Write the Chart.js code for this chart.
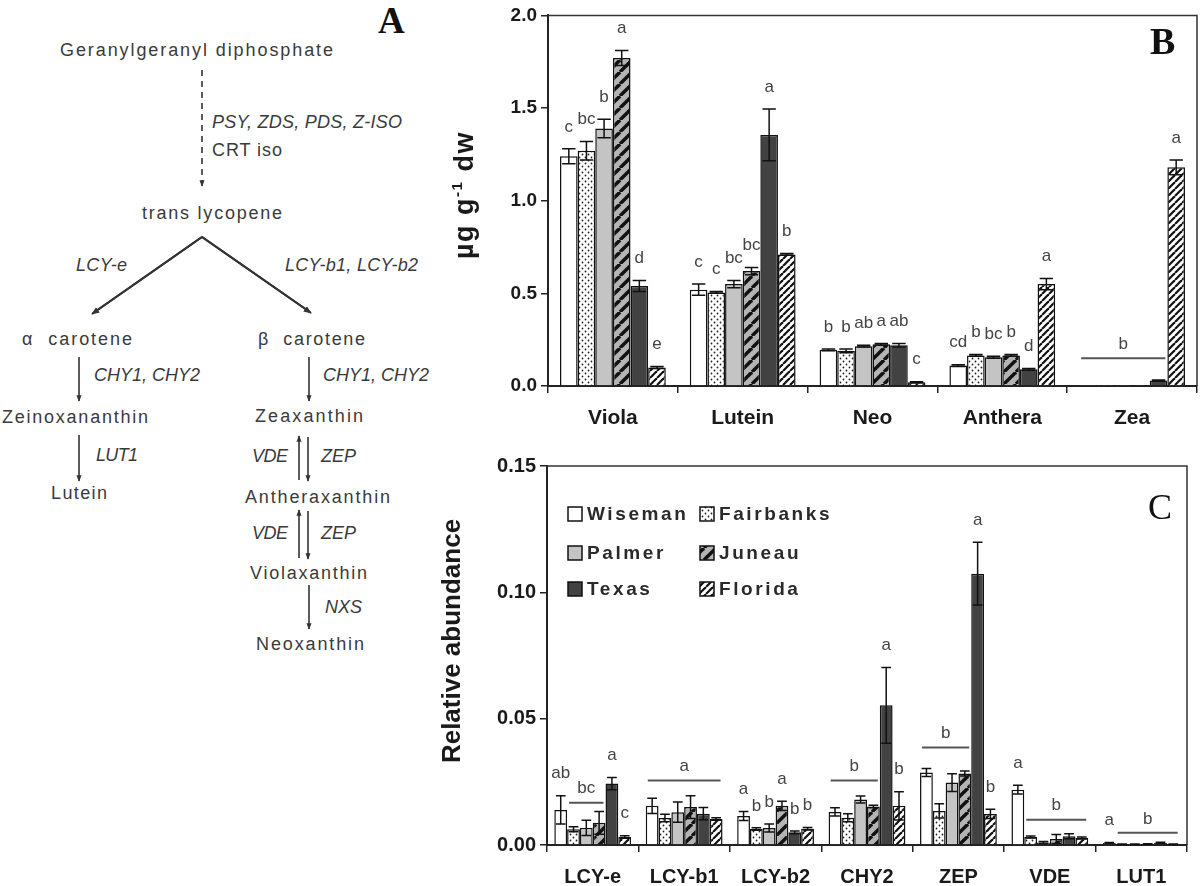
<!DOCTYPE html>
<html>
<head>
<meta charset="utf-8">
<script src="https://cdn.jsdelivr.net/npm/chart.js@4.4.1/dist/chart.umd.min.js"></script>
<style>
  body { margin: 0; background: #fff; width: 1200px; height: 886px; overflow: hidden; position: relative; }
  #pathway { position: absolute; left: 0; top: 0; }
  #pathway text { font-family: 'Liberation Sans', Arial, sans-serif; font-size: 18px; fill: #3a3a3a; dominant-baseline: central; }
  #pathway text.it { font-style: italic; }
  .wrap { position: absolute; left: 440px; width: 760px; }
  #wrapB { top: 0; height: 440px; }
  #wrapC { top: 440px; height: 446px; }
  .panel { position: absolute; font-family: 'Liberation Serif', 'Times New Roman', serif; color: #111; line-height: 1; }
</style>
</head>
<body>

<svg id="pathway" width="440" height="886">
  <defs>
    <marker id="ah" viewBox="0 0 10 10" refX="9" refY="5" markerWidth="4" markerHeight="4" orient="auto">
      <path d="M0,1 L10,5 L0,9 z" fill="#333"/>
    </marker>
  </defs>
  <g stroke="#333" stroke-width="1.6" fill="none">
    <line x1="202" y1="70" x2="202" y2="186" stroke-dasharray="6,5" marker-end="url(#ah)"/>
    <polyline points="93,313 202,237 310,312" stroke-width="2"/>
    <line x1="202" y1="237" x2="92" y2="314" stroke-width="2" marker-end="url(#ah)"/>
    <line x1="202" y1="237" x2="311" y2="313" stroke-width="2" marker-end="url(#ah)"/>
    <line x1="79" y1="357" x2="79" y2="401" marker-end="url(#ah)"/>
    <line x1="79" y1="435" x2="79" y2="481" marker-end="url(#ah)"/>
    <line x1="309" y1="357" x2="309" y2="401" marker-end="url(#ah)"/>
    <line x1="299" y1="480" x2="299" y2="436" marker-end="url(#ah)"/>
    <line x1="308" y1="437" x2="308" y2="481" marker-end="url(#ah)"/>
    <line x1="299" y1="558" x2="299" y2="510" marker-end="url(#ah)"/>
    <line x1="308" y1="511" x2="308" y2="559" marker-end="url(#ah)"/>
    <line x1="309" y1="585" x2="309" y2="629" marker-end="url(#ah)"/>
  </g>
  <text x="60" y="50" textLength="273" lengthAdjust="spacing">Geranylgeranyl diphosphate</text>
  <text class="it" x="212" y="122" textLength="190" lengthAdjust="spacing">PSY, ZDS, PDS, Z-ISO</text>
  <text x="212" y="150" textLength="70" lengthAdjust="spacing">CRT iso</text>
  <text x="142" y="213" textLength="140" lengthAdjust="spacing">trans lycopene</text>
  <text class="it" x="76" y="265" textLength="51" lengthAdjust="spacing">LCY-e</text>
  <text class="it" x="285" y="265" textLength="133" lengthAdjust="spacing">LCY-b1, LCY-b2</text>
  <text x="22" y="339" textLength="110" lengthAdjust="spacing" xml:space="preserve">α  carotene</text>
  <text x="258" y="339" textLength="107" lengthAdjust="spacing" xml:space="preserve">β  carotene</text>
  <text class="it" x="94" y="375" textLength="106" lengthAdjust="spacing">CHY1, CHY2</text>
  <text class="it" x="323" y="375" textLength="106" lengthAdjust="spacing">CHY1, CHY2</text>
  <text x="2" y="417" textLength="146" lengthAdjust="spacing">Zeinoxananthin</text>
  <text x="255" y="416" textLength="108" lengthAdjust="spacing">Zeaxanthin</text>
  <text class="it" x="96" y="455" textLength="42" lengthAdjust="spacing">LUT1</text>
  <text class="it" x="252" y="456" textLength="36" lengthAdjust="spacing">VDE</text>
  <text class="it" x="321" y="456" textLength="35" lengthAdjust="spacing">ZEP</text>
  <text x="51" y="493" textLength="56" lengthAdjust="spacing">Lutein</text>
  <text x="245" y="497" textLength="145" lengthAdjust="spacing">Antheraxanthin</text>
  <text class="it" x="252" y="533" textLength="36" lengthAdjust="spacing">VDE</text>
  <text class="it" x="321" y="533" textLength="35" lengthAdjust="spacing">ZEP</text>
  <text x="250" y="573" textLength="117" lengthAdjust="spacing">Violaxanthin</text>
  <text class="it" x="325" y="607" textLength="37" lengthAdjust="spacing">NXS</text>
  <text x="256" y="644" textLength="108" lengthAdjust="spacing">Neoxanthin</text>
</svg>
<div class="panel" style="left:378px;top:2px;font-size:37px;font-weight:bold;">A</div>

<div class="wrap" id="wrapB"><canvas id="chartB" width="760" height="440"></canvas></div>
<div class="wrap" id="wrapC"><canvas id="chartC" width="760" height="446"></canvas></div>
<div class="panel" style="left:1150px;top:22px;font-size:38px;font-weight:bold;">B</div>
<div class="panel" style="left:1148px;top:489px;font-size:36px;">C</div>

<script>
// ---------- data ----------
const seriesNames = ['Wiseman', 'Fairbanks', 'Palmer', 'Juneau', 'Texas', 'Florida'];

// panel B: pigment content (ug g-1 dw)
const bCategories = ['Viola', 'Lutein', 'Neo', 'Anthera', 'Zea'];
const bWiseman   = [1.24, 0.52, 0.195, 0.11, 0.006];
const bFairbanks = [1.27, 0.505, 0.19, 0.165, 0.006];
const bPalmer    = [1.39, 0.55, 0.215, 0.155, 0.006];
const bJuneau    = [1.77, 0.62, 0.225, 0.165, 0.006];
const bTexas     = [0.54, 1.355, 0.22, 0.09, 0.03];
const bFlorida   = [0.10, 0.71, 0.02, 0.55, 1.18];
const bWisemanErr   = [0.04, 0.03, 0.005, 0.005, 0];
const bFairbanksErr = [0.05, 0.005, 0.01, 0.005, 0];
const bPalmerErr    = [0.05, 0.02, 0.005, 0.005, 0];
const bJuneauErr    = [0.04, 0.02, 0.005, 0.005, 0];
const bTexasErr     = [0.03, 0.14, 0.01, 0.005, 0.003];
const bFloridaErr   = [0.005, 0.005, 0.003, 0.03, 0.04];
const bWisemanSig   = ['c', 'c', 'b', 'cd', ''];
const bFairbanksSig = ['bc', 'c', 'b', 'b', ''];
const bPalmerSig    = ['b', 'bc', 'ab', 'bc', ''];
const bJuneauSig    = ['a', 'bc', 'a', 'b', ''];
const bTexasSig     = ['d', 'a', 'ab', 'd', ''];
const bFloridaSig   = ['e', 'b', 'c', 'a', 'a'];
const bLineCats   = ['Zea'];
const bLineFrom   = [0];
const bLineTo     = [4];
const bLineLevel  = [0.15];
const bLineLabels = ['b'];
const bTicks = [0, 0.5, 1.0, 1.5, 2.0];

// panel C: relative transcript abundance
const cCategories = ['LCY-e', 'LCY-b1', 'LCY-b2', 'CHY2', 'ZEP', 'VDE', 'LUT1'];
const cWiseman   = [0.0139, 0.0155, 0.0115, 0.0131, 0.0287, 0.0219, 0.0008];
const cFairbanks = [0.0062, 0.0107, 0.0063, 0.0108, 0.0135, 0.0032, 0.0003];
const cPalmer    = [0.0068, 0.0130, 0.0067, 0.0180, 0.0247, 0.0010, 0.0003];
const cJuneau    = [0.0088, 0.0150, 0.0155, 0.0152, 0.0283, 0.0024, 0.0004];
const cTexas     = [0.0243, 0.0124, 0.0050, 0.0553, 0.1074, 0.0035, 0.0009];
const cFlorida   = [0.0032, 0.0103, 0.0064, 0.0155, 0.0123, 0.0028, 0.0003];
const cWisemanErr   = [0.0056, 0.0030, 0.0018, 0.0016, 0.0016, 0.0017, 0.0002];
const cFairbanksErr = [0.0010, 0.0015, 0.0005, 0.0016, 0.0028, 0.0004, 0.0001];
const cPalmerErr    = [0.0030, 0.0040, 0.0016, 0.0014, 0.0035, 0.0004, 0.0001];
const cJuneauErr    = [0.0045, 0.0045, 0.0018, 0.0005, 0.0010, 0.0018, 0.0001];
const cTexasErr     = [0.0024, 0.0024, 0.0005, 0.0150, 0.0124, 0.0010, 0.0002];
const cFloridaErr   = [0.0005, 0.0005, 0.0005, 0.0056, 0.0018, 0.0004, 0.0001];
const cWisemanSig   = ['ab', '', 'a', '', '', 'a', 'a'];
const cFairbanksSig = ['', '', 'b', '', '', '', ''];
const cPalmerSig    = ['', '', 'b', '', '', '', ''];
const cJuneauSig    = ['', '', 'a', '', '', '', ''];
const cTexasSig     = ['a', '', 'b', 'a', 'a', '', ''];
const cFloridaSig   = ['c', '', 'b', 'b', 'b', '', ''];
const cLineCats   = ['LCY-e', 'LCY-b1', 'CHY2', 'ZEP', 'VDE', 'LUT1'];
const cLineFrom   = [1, 0, 0, 0, 1, 1];
const cLineTo     = [3, 5, 3, 3, 5, 5];
const cLineLevel  = [0.0167, 0.0255, 0.0255, 0.0386, 0.0100, 0.0048];
const cLineLabels = ['bc', 'a', 'b', 'b', 'b', 'b'];
const cTicks = [0, 0.05, 0.10, 0.15];

// ---------- fills ----------
function tile(size, bg, draw) {
  const c = document.createElement('canvas');
  c.width = size; c.height = size;
  const g = c.getContext('2d');
  g.fillStyle = bg; g.fillRect(0, 0, size, size);
  draw(g, size);
  return c;
}
function stripes(size, bg, w) {
  return tile(size, bg, (g, s) => {
    g.strokeStyle = '#111'; g.lineWidth = w;
    for (let k = -1; k <= 1; k++) {
      g.beginPath(); g.moveTo(k * s, s); g.lineTo(k * s + s, 0); g.stroke();
    }
  });
}
function fills(ctx) {
  const dots = tile(6, '#fff', (g) => {
    g.fillStyle = '#222';
    g.beginPath(); g.arc(1.5, 1.5, 0.9, 0, Math.PI * 2); g.fill();
    g.beginPath(); g.arc(4.5, 4.5, 0.9, 0, Math.PI * 2); g.fill();
  });
  return [
    '#ffffff',
    ctx.createPattern(dots, 'repeat'),
    '#c4c4c4',
    ctx.createPattern(stripes(12, '#b4b4b4', 3.4), 'repeat'),
    '#424242',
    ctx.createPattern(stripes(7, '#ffffff', 2.2), 'repeat')
  ];
}

// ---------- plugins ----------
const FONT = "'Liberation Sans', Arial, sans-serif";

const marks = {
  id: 'marks',
  afterDatasetsDraw(chart, args, opts) {
    const ctx = chart.ctx, ys = chart.scales.y;
    ctx.save();
    ctx.strokeStyle = '#111';
    ctx.lineWidth = 1.5;
    ctx.fillStyle = '#444';
    ctx.font = '17px ' + FONT;
    ctx.textAlign = 'center';
    ctx.textBaseline = 'middle';
    chart.data.datasets.forEach((ds, i) => {
      chart.getDatasetMeta(i).data.forEach((bar, j) => {
        const v = ds.data[j], e = ds.err[j];
        const top = ys.getPixelForValue(v + e);
        if (e > 0) {
          const bot = ys.getPixelForValue(Math.max(v - e, 0));
          const hw = bar.width * 0.38;
          ctx.beginPath();
          ctx.moveTo(bar.x, top); ctx.lineTo(bar.x, bot);
          ctx.moveTo(bar.x - hw, top); ctx.lineTo(bar.x + hw, top);
          ctx.moveTo(bar.x - hw, bot); ctx.lineTo(bar.x + hw, bot);
          ctx.stroke();
        }
        if (ds.sig[j]) ctx.fillText(ds.sig[j], bar.x, top - opts.gap);
      });
    });
    // significance group lines
    ctx.strokeStyle = '#555';
    ctx.lineWidth = 2;
    opts.cats.forEach((cat, k) => {
      const idx = chart.data.labels.indexOf(cat);
      const a = chart.getDatasetMeta(opts.from[k]).data[idx];
      const b = chart.getDatasetMeta(opts.to[k]).data[idx];
      const x0 = a.x - a.width / 2 + 2, x1 = b.x + b.width / 2 - 2;
      const y = ys.getPixelForValue(opts.level[k]);
      ctx.beginPath(); ctx.moveTo(x0, y); ctx.lineTo(x1, y); ctx.stroke();
      ctx.fillText(opts.labels[k], (x0 + x1) / 2, y - 14);
    });
    ctx.restore();
  },
  afterDraw(chart, args, opts) {
    const ctx = chart.ctx, ca = chart.chartArea;
    ctx.save();
    // frame on top and right
    ctx.strokeStyle = '#333';
    ctx.lineWidth = 1.5;
    ctx.beginPath();
    ctx.moveTo(ca.left, ca.top); ctx.lineTo(ca.right, ca.top); ctx.lineTo(ca.right, ca.bottom);
    ctx.stroke();
    // rotated y title
    ctx.translate(opts.titleX, opts.titleY);
    ctx.rotate(-Math.PI / 2);
    ctx.fillStyle = '#1a1a1a';
    ctx.textBaseline = 'middle';
    if ('letterSpacing' in ctx) ctx.letterSpacing = opts.titleSpacing;
    const parts = opts.title;
    const big = 'bold ' + opts.titleSize + 'px ' + FONT;
    const small = 'bold ' + Math.round(opts.titleSize * 0.55) + 'px ' + FONT;
    let total = 0;
    parts.forEach(p => { ctx.font = p.sup ? small : big; total += ctx.measureText(p.t).width; });
    let x = -total / 2;
    ctx.textAlign = 'left';
    parts.forEach(p => {
      ctx.font = p.sup ? small : big;
      ctx.fillText(p.t, x, p.sup ? -opts.titleSize * 0.3 : 0);
      x += ctx.measureText(p.t).width;
    });
    ctx.restore();
    // legend
    if (opts.legend) {
      const L = opts.legend;
      ctx.save();
      ctx.font = 'bold 19px ' + FONT;
      if ('letterSpacing' in ctx) ctx.letterSpacing = '2.6px';
      ctx.textBaseline = 'middle';
      ctx.textAlign = 'left';
      chart.data.datasets.forEach((ds, i) => {
        const col = i % 2, row = Math.floor(i / 2);
        const bx = L.x[col], by = L.y[row];
        ctx.fillStyle = ds.backgroundColor;
        ctx.fillRect(bx, by - 7, 14, 14);
        ctx.strokeStyle = '#111';
        ctx.lineWidth = 1.5;
        ctx.strokeRect(bx, by - 7, 14, 14);
        ctx.fillStyle = '#2a2a2a';
        ctx.fillText(ds.label, bx + 19, by + 1);
      });
      ctx.restore();
    }
  }
};

function makeChart(id, cfg) {
  const canvas = document.getElementById(id);
  const ctx = canvas.getContext('2d');
  const colors = fills(ctx);
  const datasets = seriesNames.map((name, i) => ({
    label: name,
    data: cfg.values[i],
    err: cfg.errs[i],
    sig: cfg.sigs[i],
    backgroundColor: colors[i],
    borderColor: '#111',
    borderWidth: 1.5,
    categoryPercentage: cfg.catPct,
    barPercentage: 1.0
  }));
  return new Chart(ctx, {
    type: 'bar',
    data: { labels: cfg.categories, datasets },
    plugins: [marks],
    options: {
      responsive: false,
      animation: false,
      layout: { padding: cfg.padding },
      plugins: {
        legend: { display: false },
        tooltip: { enabled: false },
        marks: cfg.marks
      },
      scales: {
        x: {
          grid: { display: true, drawOnChartArea: false, offset: true, tickLength: 7, color: '#222', lineWidth: 1.5 },
          border: { display: true, color: '#222', width: 2 },
          ticks: { color: '#1a1a1a', padding: cfg.xPad, font: { family: FONT, size: cfg.xFont, weight: 'bold' } },
          afterFit: s => { s.height = cfg.xHeight; }
        },
        y: {
          min: 0,
          max: cfg.ticks[cfg.ticks.length - 1],
          afterBuildTicks: s => { s.ticks = cfg.ticks.map(v => ({ value: v })); },
          grid: { display: true, drawOnChartArea: false, tickLength: 7, color: '#222', lineWidth: 1.5 },
          border: { display: true, color: '#222', width: 2 },
          ticks: {
            color: '#1a1a1a', padding: 4,
            font: { family: FONT, size: cfg.yFont, weight: 'bold' },
            callback: v => v.toFixed(cfg.digits)
          },
          afterFit: s => { s.width = cfg.yWidth; }
        }
      }
    }
  });
}

makeChart('chartB', {
  categories: bCategories,
  values: [bWiseman, bFairbanks, bPalmer, bJuneau, bTexas, bFlorida],
  errs: [bWisemanErr, bFairbanksErr, bPalmerErr, bJuneauErr, bTexasErr, bFloridaErr],
  sigs: [bWisemanSig, bFairbanksSig, bPalmerSig, bJuneauSig, bTexasSig, bFloridaSig],
  ticks: bTicks, digits: 1,
  catPct: 0.815,
  padding: { top: 11, right: 3, left: 0, bottom: 0 },
  xHeight: 54, yWidth: 108, xPad: 13, xFont: 21, yFont: 19,
  marks: {
    gap: 22,
    cats: bLineCats, from: bLineFrom, to: bLineTo, level: bLineLevel, labels: bLineLabels,
    titleX: 26, titleY: 195, titleSize: 27, titleSpacing: '1.5px',
    title: [{ t: 'µg g' }, { t: '-1', sup: true }, { t: ' dw' }]
  }
});

makeChart('chartC', {
  categories: cCategories,
  values: [cWiseman, cFairbanks, cPalmer, cJuneau, cTexas, cFlorida],
  errs: [cWisemanErr, cFairbanksErr, cPalmerErr, cJuneauErr, cTexasErr, cFloridaErr],
  sigs: [cWisemanSig, cFairbanksSig, cPalmerSig, cJuneauSig, cTexasSig, cFloridaSig],
  ticks: cTicks, digits: 2,
  catPct: 0.84,
  padding: { top: 26, right: 13, left: 0, bottom: 0 },
  xHeight: 41, yWidth: 107, xPad: 13, xFont: 20, yFont: 20,
  marks: {
    gap: 22,
    cats: cLineCats, from: cLineFrom, to: cLineTo, level: cLineLevel, labels: cLineLabels,
    titleX: 13, titleY: 201, titleSize: 26, titleSpacing: '0px',
    title: [{ t: 'Relative abundance' }],
    legend: { x: [128, 260], y: [74, 113, 149] }
  }
});
</script>
</body>
</html>
